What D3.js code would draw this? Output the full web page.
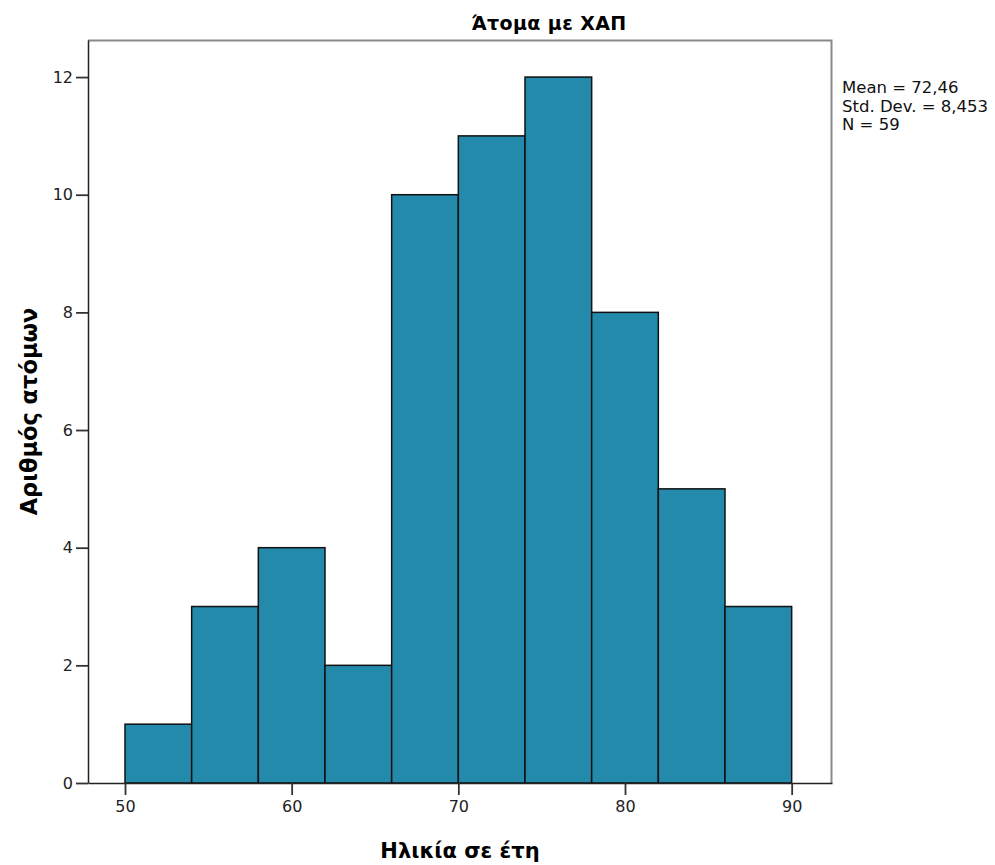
<!DOCTYPE html>
<html>
<head>
<meta charset="utf-8">
<script src="https://cdn.jsdelivr.net/npm/d3@7"></script>
<style>
  body { margin: 0; background: #fff; }
  text { font-family: "DejaVu Sans", sans-serif; }
</style>
</head>
<body>
<svg id="chart" width="995" height="865"></svg>
<script>
// bin edges (years) and counts per bin
const binStarts = [50, 54, 58, 62, 66, 70, 74, 78, 82, 86];
const binWidth = 4;
const counts = [1, 3, 4, 2, 10, 11, 12, 8, 5, 3];
const xTicks = [50, 60, 70, 80, 90];
const yTicks = [0, 2, 4, 6, 8, 10, 12];
const statsLines = ['Mean = 72,46', 'Std. Dev. = 8,453', 'N = 59'];

const pLeft = 88, pRight = 832, pTop = 40, pBottom = 783;

const svg = d3.select('#chart');

const x = d3.scaleLinear().domain([47.78, 92.42]).range([pLeft, pRight]);
const y = d3.scaleLinear().domain([0, 12.63]).range([pBottom, pTop]);

// frame (top/right grey)
svg.append('path')
    .attr('d', `M${pLeft},${pTop + 0.5}H${pRight - 0.5}V${pBottom}`)
    .attr('fill', 'none')
    .attr('stroke', '#8a8a8a')
    .attr('stroke-width', 2);

// bars
svg.append('g')
    .selectAll('rect')
    .data(binStarts.map((s, i) => ({s, c: counts[i]})))
    .join('rect')
    .attr('x', d => x(d.s))
    .attr('y', d => y(d.c))
    .attr('width', d => x(d.s + binWidth) - x(d.s))
    .attr('height', d => y(0) - y(d.c))
    .attr('fill', '#248aab')
    .attr('stroke', '#111')
    .attr('stroke-width', 1.5);

// axes
const xAxis = svg.append('g')
    .attr('transform', `translate(0,${pBottom})`)
    .call(d3.axisBottom(x).tickValues(xTicks).tickSize(12).tickSizeOuter(0).tickPadding(6));
const yAxis = svg.append('g')
    .attr('transform', `translate(${pLeft},0)`)
    .call(d3.axisLeft(y).tickValues(yTicks).tickSize(12).tickSizeOuter(0).tickPadding(3));

[xAxis, yAxis].forEach(g => {
    g.select('.domain').attr('stroke', '#222').attr('stroke-width', 1.5);
    g.selectAll('.tick line').attr('stroke', '#333').attr('stroke-width', 1.8);
    g.selectAll('.tick text')
        .attr('fill', '#222')
        .style('font-size', '16px');
});

// title
svg.append('text')
    .attr('x', 549)
    .attr('y', 30)
    .attr('text-anchor', 'middle')
    .style('font-size', '19px')
    .style('font-weight', 'bold')
    .style('letter-spacing', '0.4px')
    .text('Άτομα με ΧΑΠ');

// axis titles
svg.append('text')
    .attr('x', (pLeft + pRight) / 2)
    .attr('y', 858)
    .attr('text-anchor', 'middle')
    .style('font-size', '21px')
    .style('font-weight', 'bold')
    .text('Ηλικία σε έτη');

svg.append('text')
    .attr('transform', `translate(37,${(pTop + pBottom) / 2}) rotate(-90)`)
    .attr('text-anchor', 'middle')
    .style('font-size', '22.5px')
    .style('font-weight', 'bold')
    .text('Αριθμός ατόμων');

// stats box text
svg.append('g')
    .selectAll('text')
    .data(statsLines)
    .join('text')
    .attr('x', 842)
    .attr('y', (d, i) => 93 + i * 18.5)
    .style('font-size', '16.5px')
    .attr('fill', '#111')
    .text(d => d);
</script>
</body>
</html>
